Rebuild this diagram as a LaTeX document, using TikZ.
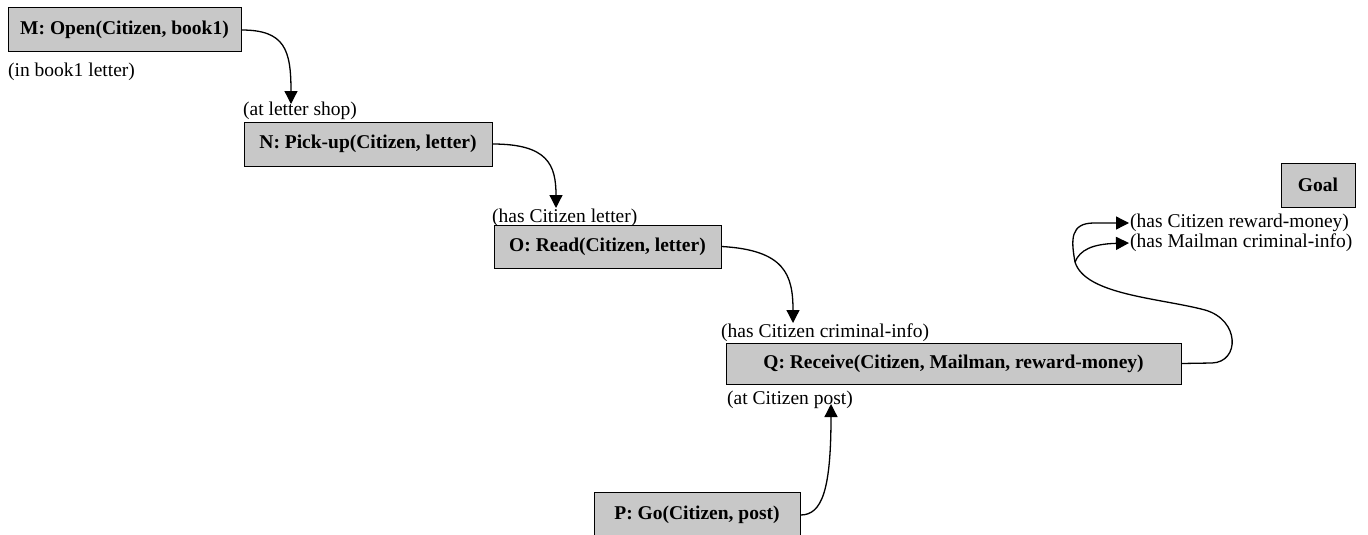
\documentclass[tikz,border=0pt]{standalone}
\usepackage{fontspec}
\setmainfont{Liberation Serif}
\usetikzlibrary{arrows.meta}
\definecolor{boxgray}{RGB}{200,200,200}
\begin{document}
\begin{tikzpicture}[x=1pt,y=-1pt,
  box/.style={draw, fill=boxgray, line width=1pt, inner sep=0pt,
    font=\fontsize{19.5}{23}\selectfont\bfseries},
  lab/.style={inner sep=0pt, anchor=west, font=\fontsize{19.5}{23}\selectfont},
  conn/.style={line width=1.3pt, -{Triangle[width=13pt,length=13pt]}},
  link/.style={line width=1.3pt}]
\useasboundingbox (0,0) rectangle (1368,535);
\fill[white] (0,0) rectangle (1368,535);

% boxes
\node[box, minimum width=233pt, minimum height=44pt] (M) at (124.5,30) {M: Open(Citizen, book1)};
\node[box, minimum width=248pt, minimum height=44pt] (N) at (368,144) {N: Pick-up(Citizen, letter)};
\node[box, minimum width=227pt, minimum height=43pt] (O) at (607.5,246.5) {O: Read(Citizen, letter)};
\node[box, minimum width=455pt, minimum height=41pt] (Q) at (953.5,363.5) {Q: Receive(Citizen, Mailman, reward-money)};
\node[box, minimum width=206pt, minimum height=46pt] (P) at (697,515) {P: Go(Citizen, post)};
\node[box, minimum width=74pt, minimum height=44pt] (G) at (1318,185) {Goal};

% labels
\node[lab] (l1) at (8,72) {(in book1 letter)};
\node[lab] (l2) at (243,111) {(at letter shop)};
\node[lab] (l3) at (492,218) {(has Citizen letter)};
\node[lab] (l4) at (721,333) {(has Citizen criminal-info)};
\node[lab] (l5) at (727,400) {(at Citizen post)};
\node[lab] (l6) at (1130,223) {(has Citizen reward-money)};
\node[lab] (l7) at (1130,243) {(has Mailman criminal-info)};

% arrow tips / junctions
\coordinate (tM) at (291,104);
\coordinate (tN) at (556,208);
\coordinate (tO) at (793,323);
\coordinate (tP) at (831,404);
\coordinate (q1) at (1212,363);
\coordinate (q2) at (1205,310);
\coordinate (jn) at (1075,262);
\coordinate (t6) at (1129,223);
\coordinate (t7) at (1129,243);

% connectors
\draw[conn] (M.east) .. controls (285,30) and (291,50) .. (tM);
\draw[conn] (N.east) .. controls (548,144) and (556,165) .. (tN);
\draw[conn] (O.east) .. controls (785,250) and (793,275) .. (tO);
\draw[conn] (P.east) .. controls (822,515) and (831,490) .. (tP);
\draw[link] (Q.east) -- (q1) .. controls (1240,362) and (1240,320) .. (q2)
  .. controls (1160,298) and (1085,295) .. (jn);
\draw[conn] (jn) .. controls (1071,240) and (1070,223) .. (1094,223) -- (t6);
\draw[conn] (jn) .. controls (1080,250) and (1092,244) .. (t7);
\end{tikzpicture}
\end{document}
